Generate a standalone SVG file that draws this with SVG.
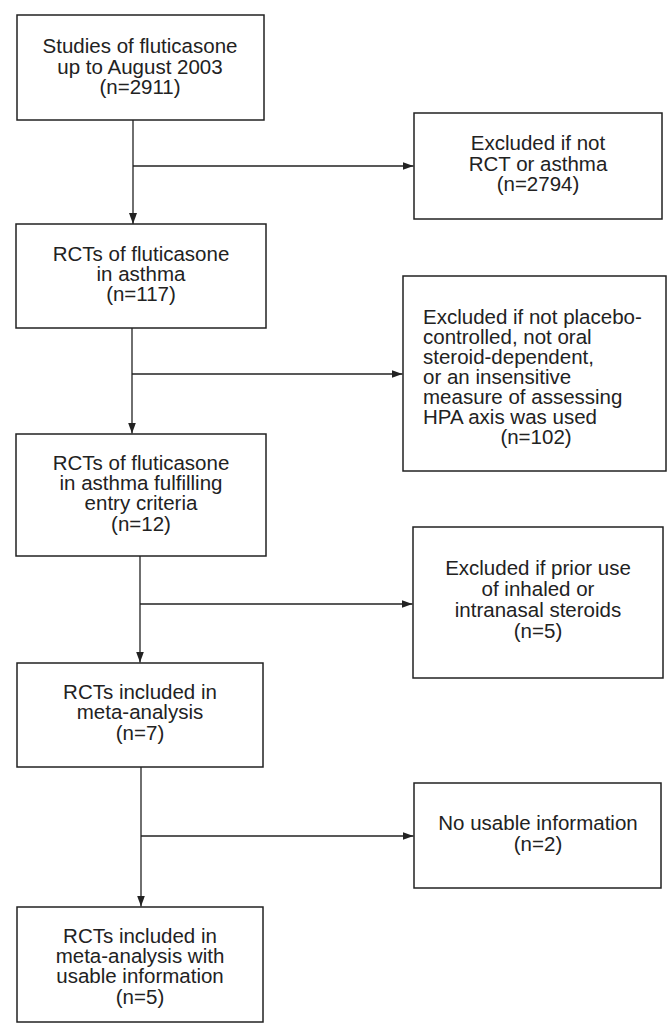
<svg xmlns="http://www.w3.org/2000/svg" width="667" height="1024" viewBox="0 0 667 1024">
<style>
.box{fill:#fff;stroke:#222;stroke-width:1.5}
.t{font-family:"Liberation Sans",Arial,Helvetica,sans-serif;font-size:20.5px;fill:#222}
.c{text-anchor:middle}
.ln{stroke:#222;stroke-width:1.3;fill:none}
</style>
<defs>
<marker id="ah" viewBox="0 0 11 8" refX="11" refY="4" markerWidth="11" markerHeight="8" markerUnits="userSpaceOnUse" orient="auto">
<path d="M0,0 L11,4 L0,8 z" fill="#222"/>
</marker>
</defs>
<rect width="667" height="1024" fill="#fff"/>
<g id="connectors">
<line class="ln" x1="133" y1="120" x2="133" y2="224" marker-end="url(#ah)"/>
<line class="ln" x1="133" y1="166" x2="413.5" y2="166" marker-end="url(#ah)"/>
<line class="ln" x1="132" y1="328" x2="132" y2="433.5" marker-end="url(#ah)"/>
<line class="ln" x1="132" y1="374" x2="402.5" y2="374" marker-end="url(#ah)"/>
<line class="ln" x1="140" y1="556" x2="140" y2="662.5" marker-end="url(#ah)"/>
<line class="ln" x1="140" y1="604" x2="412.5" y2="604" marker-end="url(#ah)"/>
<line class="ln" x1="141" y1="767" x2="141" y2="906.5" marker-end="url(#ah)"/>
<line class="ln" x1="141" y1="836" x2="413.5" y2="836" marker-end="url(#ah)"/>
</g>
<g id="n1">
<rect class="box" x="17" y="15" width="247" height="105"/>
<text class="t c" x="140" y="53">Studies of fluticasone</text>
<text class="t c" x="140" y="74">up to August 2003</text>
<text class="t c" x="140" y="94">(n=2911)</text>
</g>
<g id="x1">
<rect class="box" x="414" y="113" width="248" height="106"/>
<text class="t c" x="538" y="150">Excluded if not</text>
<text class="t c" x="538" y="171">RCT or asthma</text>
<text class="t c" x="538" y="191">(n=2794)</text>
</g>
<g id="n2">
<rect class="box" x="16" y="224" width="250" height="104"/>
<text class="t c" x="141" y="261">RCTs of fluticasone</text>
<text class="t c" x="141" y="281">in asthma</text>
<text class="t c" x="141" y="301">(n=117)</text>
</g>
<g id="x2">
<rect class="box" x="403" y="276" width="263" height="195"/>
<text class="t" x="423" y="324">Excluded if not placebo-</text>
<text class="t" x="423" y="344">controlled, not oral</text>
<text class="t" x="423" y="364">steroid-dependent,</text>
<text class="t" x="423" y="384">or an insensitive</text>
<text class="t" x="423" y="404">measure of assessing</text>
<text class="t" x="423" y="424">HPA axis was used</text>
<text class="t c" x="536" y="444">(n=102)</text>
</g>
<g id="n3">
<rect class="box" x="16" y="434" width="250" height="122"/>
<text class="t c" x="141" y="470">RCTs of fluticasone</text>
<text class="t c" x="141" y="490">in asthma fulfilling</text>
<text class="t c" x="141" y="510">entry criteria</text>
<text class="t c" x="141" y="531">(n=12)</text>
</g>
<g id="x3">
<rect class="box" x="413" y="527" width="250" height="151"/>
<text class="t c" x="538" y="575">Excluded if prior use</text>
<text class="t c" x="538" y="596">of inhaled or</text>
<text class="t c" x="538" y="617">intranasal steroids</text>
<text class="t c" x="538" y="638">(n=5)</text>
</g>
<g id="n4">
<rect class="box" x="17" y="663" width="246" height="104"/>
<text class="t c" x="140" y="699">RCTs included in</text>
<text class="t c" x="140" y="719">meta-analysis</text>
<text class="t c" x="140" y="740">(n=7)</text>
</g>
<g id="x4">
<rect class="box" x="414" y="783" width="247" height="105"/>
<text class="t c" x="538" y="830">No usable information</text>
<text class="t c" x="538" y="851">(n=2)</text>
</g>
<g id="n5">
<rect class="box" x="17" y="907" width="246" height="115"/>
<text class="t c" x="140" y="943">RCTs included in</text>
<text class="t c" x="140" y="963">meta-analysis with</text>
<text class="t c" x="140" y="983">usable information</text>
<text class="t c" x="140" y="1004">(n=5)</text>
</g>
</svg>
